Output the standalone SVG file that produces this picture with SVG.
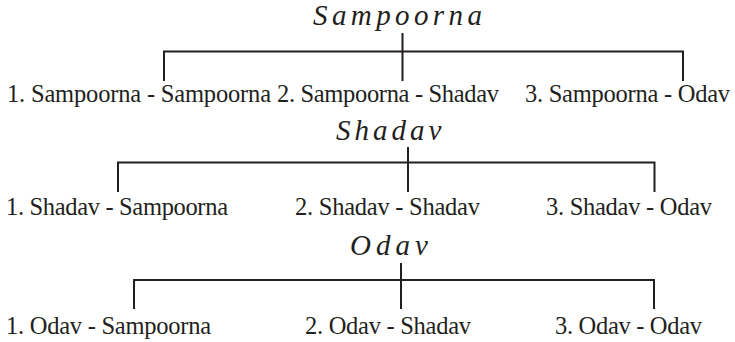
<svg xmlns="http://www.w3.org/2000/svg" width="735" height="342" viewBox="0 0 735 342">
<style>
.conn{stroke:#231f20;stroke-width:2;fill:none}
.title{font-family:"Liberation Serif","Times New Roman",serif;font-style:italic;font-size:29px;fill:#231f20}
.lbl{font-family:"Liberation Serif","Times New Roman",serif;font-size:24.5px;fill:#231f20}
</style>
<rect width="735" height="342" fill="#ffffff"/>
<g id="connectors" class="conn">
<path d="M402.5,33 V81 M164,81 V51.5 H683 V81"/>
<path d="M408,147 V192 M118,192 V162.5 H654.5 V192"/>
<path d="M401,263 V309 M134,309 V280 H654 V309"/>
</g>
<g id="sampoorna"><text class="title" x="313" y="25" letter-spacing="4.4">Sampoorna</text></g>
<g id="s1"><text class="lbl" x="7" y="102" textLength="264">1. Sampoorna - Sampoorna</text></g>
<g id="s2"><text class="lbl" x="277" y="102" textLength="222">2. Sampoorna - Shadav</text></g>
<g id="s3"><text class="lbl" x="525" y="102" textLength="205">3. Sampoorna - Odav</text></g>
<g id="shadav"><text class="title" x="336" y="140" letter-spacing="4">Shadav</text></g>
<g id="sh1"><text class="lbl" x="6" y="215" textLength="222">1. Shadav - Sampoorna</text></g>
<g id="sh2"><text class="lbl" x="295" y="215" textLength="185">2. Shadav - Shadav</text></g>
<g id="sh3"><text class="lbl" x="546" y="215" textLength="166">3. Shadav - Odav</text></g>
<g id="odav"><text class="title" x="350" y="255" letter-spacing="5">Odav</text></g>
<g id="o1"><text class="lbl" x="6" y="334" textLength="205">1. Odav - Sampoorna</text></g>
<g id="o2"><text class="lbl" x="305" y="334" textLength="166">2. Odav - Shadav</text></g>
<g id="o3"><text class="lbl" x="555" y="334" textLength="147">3. Odav - Odav</text></g>
</svg>
